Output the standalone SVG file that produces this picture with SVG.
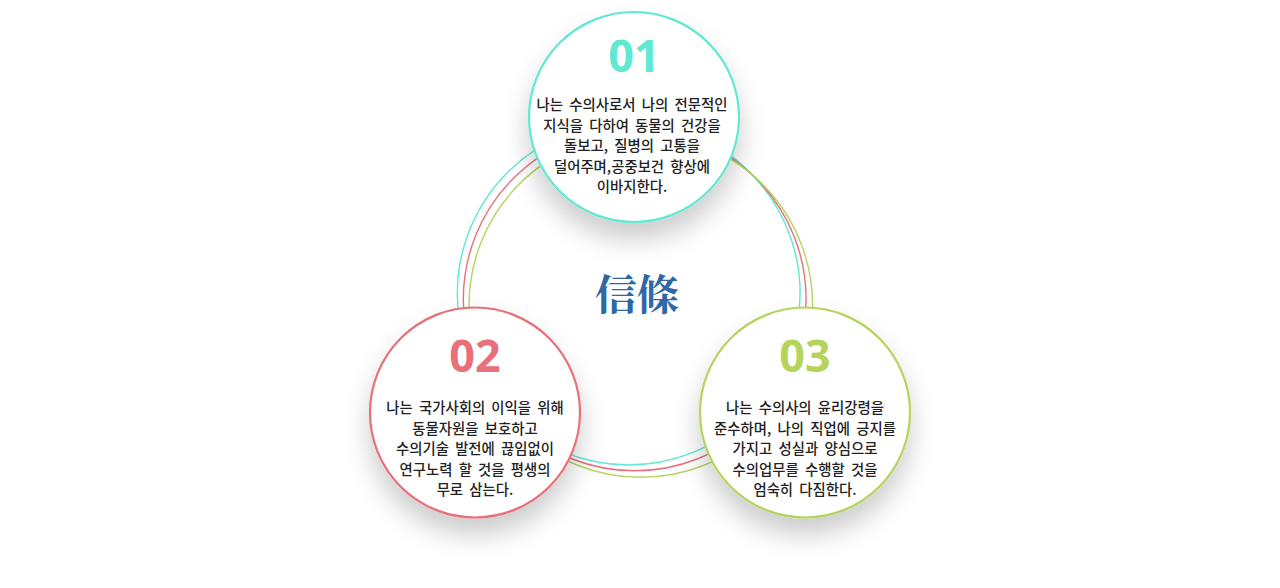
<svg xmlns="http://www.w3.org/2000/svg" width="1280" height="588" viewBox="0 0 1280 588">
<defs>
<style>
.ring{fill:none;stroke-width:1.4}
.node{fill:#fff;stroke-width:2.2}
.num{font-family:"Noto Sans","Noto Sans CJK KR",sans-serif;font-weight:700;font-size:45px;text-anchor:middle}
.body{font-family:"Noto Sans CJK KR","Noto Sans",sans-serif;font-weight:500;font-size:14.4px;fill:#222;text-anchor:middle;word-spacing:3px}
.title{font-family:"Noto Serif CJK KR","Noto Sans CJK KR",serif;font-weight:700;font-size:42px;fill:#2f68a4;text-anchor:middle}
</style>
<filter id="sh" x="-40%" y="-40%" width="180%" height="190%">
<feDropShadow dx="0" dy="16" stdDeviation="13" flood-color="#000" flood-opacity="0.2"/>
</filter>
</defs>
<rect width="1280" height="588" fill="#fff"/>
<g id="connectors">
<circle class="ring" cx="628.7" cy="293.6" r="171.4" stroke="#5fe8d2"/>
<circle class="ring" cx="634.7" cy="299.4" r="171.4" stroke="#e8707a"/>
<circle class="ring" cx="640.8" cy="305.5" r="171.8" stroke="#b5d45e"/>
</g>
<g id="title">
<text class="title" x="637" y="310">信條</text>
</g>
<g id="node1">
<circle class="node" cx="634" cy="117" r="105" stroke="#5fe8d2" filter="url(#sh)"/>
<text class="num" x="634" y="72" fill="#5fe8d2">01</text>
<text class="body"><tspan x="632" y="110">나는 수의사로서 나의 전문적인</tspan><tspan x="632" y="130.5">지식을 다하여 동물의 건강을</tspan><tspan x="632" y="151">돌보고, 질병의 고통을</tspan><tspan x="632" y="171.5">덜어주며,공중보건 향상에</tspan><tspan x="632" y="192">이바지한다.</tspan></text>
</g>
<g id="node2">
<circle class="node" cx="475" cy="412.5" r="105" stroke="#e8707a" filter="url(#sh)"/>
<text class="num" x="475" y="372" fill="#e8707a">02</text>
<text class="body"><tspan x="475" y="413">나는 국가사회의 이익을 위해</tspan><tspan x="475" y="433.5">동물자원을 보호하고</tspan><tspan x="475" y="454">수의기술 발전에 끊임없이</tspan><tspan x="475" y="474.5">연구노력 할 것을 평생의</tspan><tspan x="475" y="495">무로 삼는다.</tspan></text>
</g>
<g id="node3">
<circle class="node" cx="805" cy="412.5" r="105" stroke="#b5d45e" filter="url(#sh)"/>
<text class="num" x="805" y="372" fill="#b5d45e">03</text>
<text class="body"><tspan x="805" y="413">나는 수의사의 윤리강령을</tspan><tspan x="805" y="433.5">준수하며, 나의 직업에 긍지를</tspan><tspan x="805" y="454">가지고 성실과 양심으로</tspan><tspan x="805" y="474.5">수의업무를 수행할 것을</tspan><tspan x="805" y="495">엄숙히 다짐한다.</tspan></text>
</g>
</svg>
